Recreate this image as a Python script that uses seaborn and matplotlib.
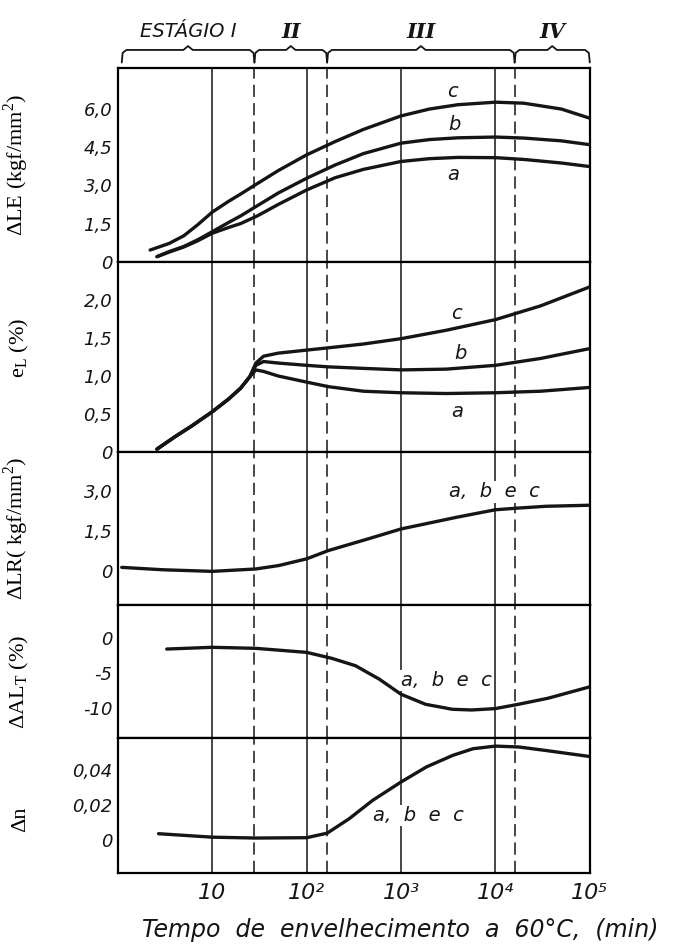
import numpy as np
import pandas as pd
import matplotlib
matplotlib.use('Agg')
import matplotlib.pyplot as plt
from matplotlib.ticker import FixedLocator, FixedFormatter, NullLocator
import seaborn as sns

# ---- valores (tempo em min) ----
# delta LE (kgf/mm2)
le_t_ab = [2.6, 3.5, 5, 7, 10, 15, 20, 30, 50, 100, 200, 400, 1000, 2000, 4000, 10000, 20000, 50000, 100000]
le_t_c = [2.2, 3.5, 5, 7, 10, 15, 20, 30, 50, 100, 200, 400, 1000, 2000, 4000, 10000, 20000, 50000, 100000]
le_a = [0.2, 0.38, 0.58, 0.82, 1.12, 1.35, 1.5, 1.8, 2.25, 2.82, 3.3, 3.63, 3.94, 4.05, 4.1, 4.09, 4.02, 3.88, 3.74]
le_b = [0.2, 0.4, 0.6, 0.86, 1.18, 1.55, 1.8, 2.2, 2.7, 3.28, 3.8, 4.25, 4.66, 4.8, 4.87, 4.9, 4.86, 4.75, 4.6]
le_c = [0.46, 0.72, 1.02, 1.45, 1.95, 2.38, 2.66, 3.07, 3.58, 4.2, 4.72, 5.2, 5.73, 6.0, 6.17, 6.27, 6.23, 6.0, 5.64]

# e_L (%)
el_t = [2.6, 4, 6, 10, 15, 20, 25, 29, 35, 50, 100, 170, 400, 1000, 3000, 10000, 30000, 100000]
el_a = [0.04, 0.2, 0.34, 0.53, 0.7, 0.84, 0.99, 1.08, 1.06, 1.0, 0.92, 0.86, 0.8, 0.78, 0.77, 0.78, 0.8, 0.85]
el_b = [0.04, 0.2, 0.34, 0.53, 0.7, 0.84, 0.99, 1.14, 1.19, 1.17, 1.14, 1.12, 1.1, 1.08, 1.09, 1.14, 1.23, 1.36]
el_c = [0.04, 0.2, 0.34, 0.53, 0.7, 0.84, 0.99, 1.17, 1.26, 1.3, 1.34, 1.37, 1.42, 1.49, 1.6, 1.74, 1.92, 2.17]

# delta LR (kgf/mm2), curva unica a, b e c
lr_t = [1.1, 3, 10, 29, 51, 100, 170, 450, 1000, 3900, 10000, 17000, 34000, 100000]
lr_v = [0.12, 0.03, -0.03, 0.06, 0.19, 0.44, 0.75, 1.19, 1.56, 2.0, 2.28, 2.34, 2.41, 2.45]

# delta AL_T (%)
al_t = [3.3, 10, 29, 100, 186, 330, 590, 1000, 1820, 3500, 5600, 10000, 17500, 36000, 100000]
al_v = [-1.55, -1.3, -1.45, -2.03, -2.9, -3.96, -5.9, -8.07, -9.52, -10.24, -10.34, -10.14, -9.52, -8.65, -7.0]

# delta n
dn_t = [2.7, 10, 29, 100, 165, 282, 500, 1000, 1860, 3550, 5800, 10000, 17700, 34000, 100000]
dn_v = [0.0035, 0.0015, 0.001, 0.0012, 0.0038, 0.0121, 0.0227, 0.0333, 0.042, 0.0487, 0.0525, 0.054, 0.0535, 0.0515, 0.048]

# estagios
stage_edges = [1.1, 28, 165, 16000, 100000]
stage_names = ['ESTÁGIO I', 'II', 'III', 'IV']
decades = [10, 100, 1000, 10000]
xtick_pos = [10, 100, 1000, 10000, 100000]
xtick_labels = ['10', '10²', '10³', '10⁴', '10⁵']

sns.set_theme(style='white')
plt.rcParams['font.family'] = ['DejaVu Sans']
plt.rcParams['mathtext.fontset'] = 'custom'
plt.rcParams['mathtext.rm'] = 'Liberation Serif'
plt.rcParams['axes.edgecolor'] = 'black'
plt.rcParams['axes.linewidth'] = 1.6

INK = '#151515'

fig, axes = plt.subplots(5, 1, figsize=(6.85, 9.49), dpi=100, sharex=True,
                         gridspec_kw={'height_ratios': [193, 190, 153, 132, 135], 'hspace': 0})
fig.subplots_adjust(left=0.172, right=0.861, top=0.928, bottom=0.080)

# dados em formato longo
df_le = pd.concat([
    pd.DataFrame({'t': le_t_ab, 'v': le_a, 'curva': 'a'}),
    pd.DataFrame({'t': le_t_ab, 'v': le_b, 'curva': 'b'}),
    pd.DataFrame({'t': le_t_c, 'v': le_c, 'curva': 'c'}),
])
df_el = pd.concat([
    pd.DataFrame({'t': el_t, 'v': el_a, 'curva': 'a'}),
    pd.DataFrame({'t': el_t, 'v': el_b, 'curva': 'b'}),
    pd.DataFrame({'t': el_t, 'v': el_c, 'curva': 'c'}),
])
df_lr = pd.DataFrame({'t': lr_t, 'v': lr_v, 'curva': 'abc'})
df_al = pd.DataFrame({'t': al_t, 'v': al_v, 'curva': 'abc'})
df_dn = pd.DataFrame({'t': dn_t, 'v': dn_v, 'curva': 'abc'})

panels = [
    (df_le, (0, 7.6), [0, 1.5, 3.0, 4.5, 6.0], ['0', '1,5', '3,0', '4,5', '6,0'],
     r'ΔLE (kgf/mm$^{2}$)', 0.5),
    (df_el, (0, 2.5), [0, 0.5, 1.0, 1.5, 2.0], ['0', '0,5', '1,0', '1,5', '2,0'],
     r'e$_{\mathrm{L}}$ (%)', 0.55),
    (df_lr, (-1.31, 4.44), [0, 1.5, 3.0], ['0', '1,5', '3,0'],
     r'ΔLR( kgf/mm$^{2}$)', 0.5),
    (df_al, (-14.35, 4.73), [-10, -5, 0], ['-10', '-5', '0'],
     r'ΔAL$_{\mathrm{T}}$ (%)', 0.42),
    (df_dn, (-0.0192, 0.0588), [0, 0.02, 0.04], ['0', '0,02', '0,04'],
     'Δn', 0.4),
]

for ax, (df, ylim, yt, ytl, ylab, ylab_y) in zip(axes, panels):
    n = df['curva'].nunique()
    sns.lineplot(data=df, x='t', y='v', hue='curva', palette=[INK] * n,
                 estimator=None, sort=False, legend=False, lw=2.4, ax=ax, zorder=3)
    ax.set_xscale('log')
    ax.set_xlim(1.0, 1e5)
    ax.set_ylim(*ylim)
    for d in decades:
        ax.axvline(d, color=INK, lw=1.1, zorder=1)
    for s in stage_edges[1:-1]:
        ax.axvline(s, color=INK, lw=1.1, dashes=(8, 4), zorder=1)
    ax.yaxis.set_major_locator(FixedLocator(yt))
    ax.yaxis.set_major_formatter(FixedFormatter(ytl))
    ax.tick_params(axis='y', direction='in', length=18, width=1.4, pad=4,
                   labelsize=13, colors=INK)
    for lab in ax.get_yticklabels():
        lab.set_fontstyle('italic')
    ax.tick_params(axis='x', length=0)
    ax.xaxis.set_minor_locator(NullLocator())
    ax.set_xlabel('')
    ax.set_ylabel(ylab, family='Liberation Serif', fontsize=16, color='black')
    ax.yaxis.set_label_coords(-0.185, ylab_y)

# eixo x
ax_b = axes[-1]
ax_b.xaxis.set_major_locator(FixedLocator(xtick_pos))
ax_b.xaxis.set_major_formatter(FixedFormatter(xtick_labels))
ax_b.tick_params(axis='x', labelsize=16, pad=7, colors=INK)
for lab in ax_b.get_xticklabels():
    lab.set_fontstyle('italic')

# rotulos das curvas
lab_kw = dict(fontsize=14, fontstyle='italic', color=INK, ha='center', va='center')
axes[0].text(3550, 6.7, 'c', **lab_kw)
axes[0].text(3700, 5.38, 'b', **lab_kw)
axes[0].text(3550, 3.41, 'a', **lab_kw)
axes[1].text(3900, 1.82, 'c', **lab_kw)
axes[1].text(4300, 1.30, 'b', **lab_kw)
axes[1].text(3900, 0.53, 'a', **lab_kw)
box = dict(facecolor='white', edgecolor='none', pad=1)
axes[2].text(3200, 2.95, 'a,  b  e  c', ha='left', va='center', fontsize=14,
             fontstyle='italic', color=INK, bbox=box, zorder=4)
axes[3].text(1000, -6.1, 'a,  b  e  c', ha='left', va='center', fontsize=14,
             fontstyle='italic', color=INK, bbox=box, zorder=4)
axes[4].text(510, 0.014, 'a,  b  e  c', ha='left', va='center', fontsize=14,
             fontstyle='italic', color=INK, bbox=box, zorder=4)

# chaves dos estagios no topo
ax0 = axes[0]
tr = ax0.get_xaxis_transform()
for (x0, x1), name in zip(zip(stage_edges[:-1], stage_edges[1:]), stage_names):
    l0, l1 = np.log10(x0), np.log10(x1)
    m = (l0 + l1) / 2
    xs = 10 ** np.array([l0, l0 + 0.01, l0 + 0.05, m - 0.05, m, m + 0.05, l1 - 0.05, l1 - 0.01, l1])
    ys = [1.03, 1.08, 1.095, 1.095, 1.115, 1.095, 1.095, 1.08, 1.03]
    ax0.plot(xs, ys, color=INK, lw=1.3, transform=tr, clip_on=False)
    if name.startswith('ESTÁGIO'):
        ax0.text(10 ** m, 1.19, name, transform=tr, ha='center', va='center',
                 fontsize=14, fontstyle='italic', color=INK)
    else:
        ax0.text(10 ** m, 1.19, name, transform=tr, ha='center', va='center',
                 fontsize=15, fontstyle='italic', fontweight='bold',
                 family='DejaVu Serif', color=INK)

fig.text(0.584, 0.02, 'Tempo  de  envelhecimento  a  60°C,  (min)', ha='center',
         va='center', fontsize=17, fontstyle='italic', color=INK)

fig.savefig('out.png', dpi=100, facecolor='white')
